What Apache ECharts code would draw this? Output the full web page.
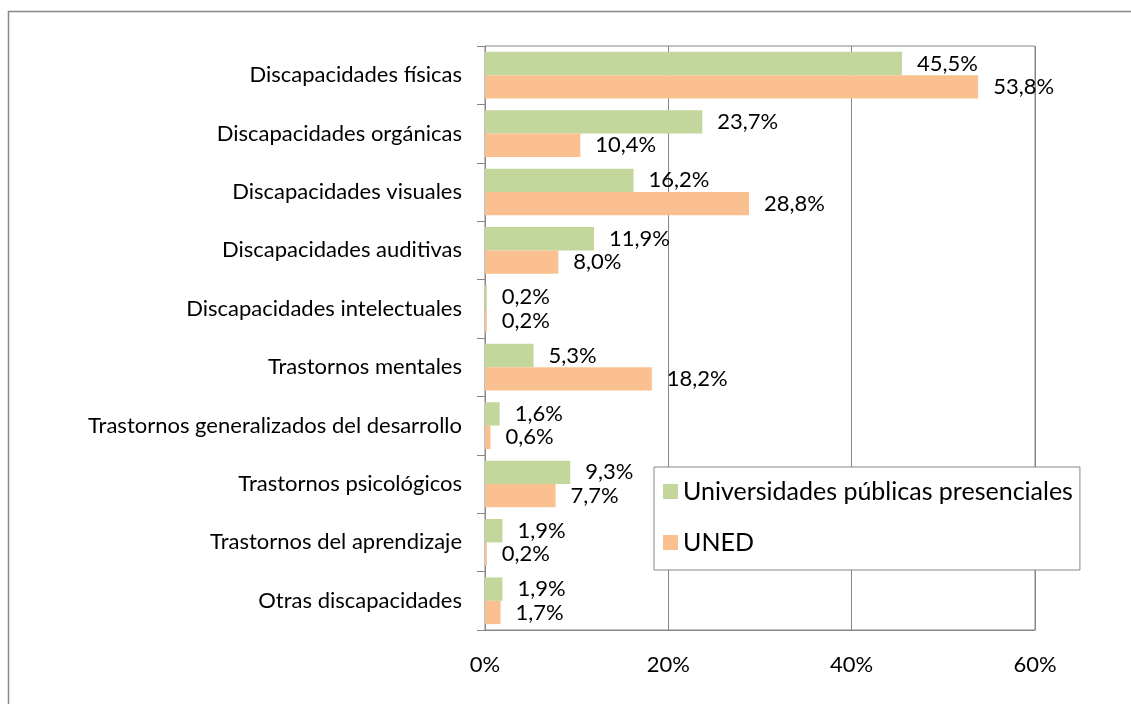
<!DOCTYPE html>
<html>
<head>
<meta charset="utf-8">
<script src="https://cdn.jsdelivr.net/npm/echarts@6/dist/echarts.min.js"></script>
<style>
html,body{margin:0;padding:0;background:#fff;}
#c{width:1131px;height:704px;}
</style>
</head>
<body>
<div id="c"></div>
<script>
const categories = [
  'Discapacidades físicas',
  'Discapacidades orgánicas',
  'Discapacidades visuales',
  'Discapacidades auditivas',
  'Discapacidades intelectuales',
  'Trastornos mentales',
  'Trastornos generalizados del desarrollo',
  'Trastornos psicológicos',
  'Trastornos del aprendizaje',
  'Otras discapacidades'
];
const seriesNames = ['Universidades públicas presenciales', 'UNED'];
const presenciales = [45.5, 23.7, 16.2, 11.9, 0.2, 5.3, 1.6, 9.3, 1.9, 1.9];
const uned = [53.8, 10.4, 28.8, 8.0, 0.2, 18.2, 0.6, 7.7, 0.2, 1.7];
const xTicks = { min: 0, max: 60, interval: 20 };

const FONT = 'Lato, "Open Sans", sans-serif';
const GRAY = '#878787';
const fmt = p => p.value.toFixed(1).replace('.', ',') + '%';

const chart = echarts.init(document.getElementById('c'), null, { renderer: 'canvas' });
chart.setOption({
  animation: false,
  backgroundColor: '#fff',
  textStyle: { fontFamily: FONT },
  graphic: [{
    type: 'rect',
    shape: { x: 8.5, y: 11.5, width: 1300, height: 900 },
    style: { fill: 'none', stroke: GRAY, lineWidth: 1.5 },
    silent: true, z: -1
  }],
  grid: { left: 485, top: 46, right: 96, bottom: 74, show: true, borderColor: GRAY, borderWidth: 1 },
  legend: {
    orient: 'vertical',
    left: 654, top: 467,
    data: seriesNames,
    icon: 'rect',
    itemWidth: 15, itemHeight: 15,
    itemGap: 26,
    padding: [12, 7, 15, 9],
    backgroundColor: '#fff',
    borderColor: GRAY, borderWidth: 1,
    textStyle: { fontSize: 25, color: '#000', fontFamily: FONT, lineHeight: 25 }
  },
  xAxis: {
    type: 'value',
    min: xTicks.min, max: xTicks.max, interval: xTicks.interval,
    axisLine: { show: true, lineStyle: { color: GRAY, width: 1 } },
    axisTick: { show: false },
    splitLine: { show: true, lineStyle: { color: GRAY, width: 1 } },
    axisLabel: { formatter: '{value}%', fontSize: 22, color: '#000', margin: 24, fontFamily: FONT }
  },
  yAxis: {
    type: 'category',
    inverse: true,
    data: categories,
    axisLine: { show: true, lineStyle: { color: GRAY, width: 1 } },
    axisTick: { show: true, length: 8, lineStyle: { color: GRAY } },
    axisLabel: { fontSize: 22, color: '#000', margin: 23, fontFamily: FONT }
  },
  series: [
    {
      name: seriesNames[0], type: 'bar', data: presenciales,
      barGap: '0%', barCategoryGap: '20%',
      itemStyle: { color: '#C3D69B' },
      label: { show: true, position: 'right', distance: 15, formatter: fmt, fontSize: 22, color: '#000', fontFamily: FONT }
    },
    {
      name: seriesNames[1], type: 'bar', data: uned,
      barGap: '0%', barCategoryGap: '20%',
      itemStyle: { color: '#FAC090' },
      label: { show: true, position: 'right', distance: 15, formatter: fmt, fontSize: 22, color: '#000', fontFamily: FONT }
    }
  ]
});
</script>
</body>
</html>
